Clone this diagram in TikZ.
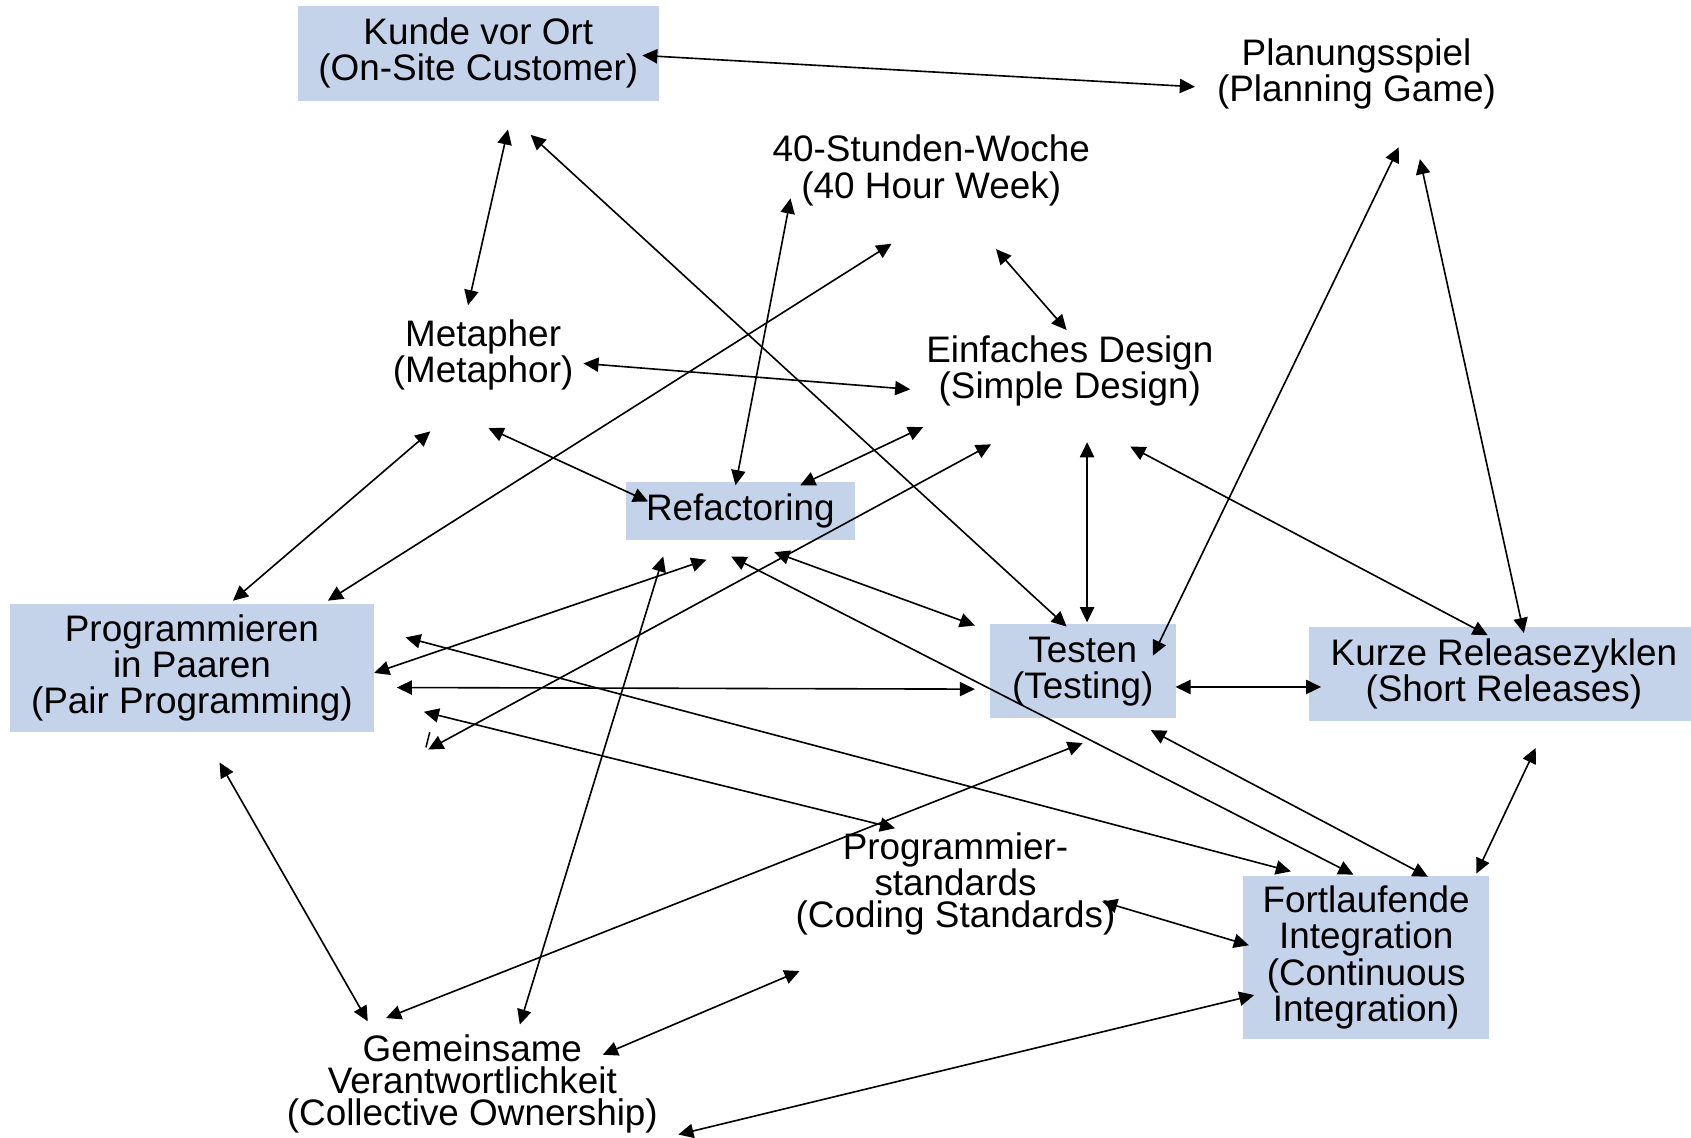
\documentclass[tikz,border=0pt]{standalone}
\usepackage{fontspec}
\setmainfont{Liberation Sans}
\usetikzlibrary{arrows.meta}
\definecolor{boxblue}{RGB}{197,211,234}

\begin{document}
\begin{tikzpicture}[x=0.5pt,y=-0.5pt,
  every node/.style={font=\fontsize{17.1}{16.75}\selectfont, align=center, inner sep=0pt},
  practice/.style={fill=boxblue},
  tight/.style={font=\fontsize{17.1}{14.8}\selectfont},
  link/.style={line width=0.75pt,
    {Triangle[length=7pt,width=6.6pt]}-{Triangle[length=7pt,width=6.6pt]}},
]
\useasboundingbox (0,0) rectangle (1568,1055);

% --- practices ---------------------------------------------------------
\node[practice, minimum width=167.5pt, minimum height=43.9pt] (kunde) at (443.5,49.5)
  {Kunde vor Ort\\(On-Site Customer)};
\node (plan) at (1257.8,68.5) {Planungsspiel\\(Planning Game)};
\node (week) at (863.5,158) {40-Stunden-Woche\\(40 Hour Week)};
\node (meta) at (448,329.4) {Metapher\\(Metaphor)};
\node (design) at (992,343.9) {Einfaches Design\\(Simple Design)};
\node[practice, minimum width=106.5pt, minimum height=27pt] (refac) at (686.5,474)
  {Refactoring};
\node[practice, minimum width=169pt, minimum height=59.6pt] (pair) at (178,619.2)
  {Programmieren\\in Paaren\\(Pair Programming)};
\node[practice, minimum width=86pt, minimum height=43.5pt] (test) at (1004,622.5)
  {Testen\\(Testing)};
\node[practice, minimum width=180.5pt, minimum height=43.75pt] (release) at (1394.5,624.75)
  {Kurze Releasezyklen\\(Short Releases)};
\node[practice, minimum width=114.2pt, minimum height=75.75pt] (ci) at (1266.8,887.75)
  {Fortlaufende\\Integration\\(Continuous\\Integration)};
\node[tight] (coding) at (886,819.5) {Programmier-\\standards\\(Coding Standards)};
\node[tight] (owner) at (438,1005) {Gemeinsame\\Verantwortlichkeit\\(Collective Ownership)};

% --- connector ends, named <at>-<towards> ------------------------------
\coordinate (kunde-plan) at (595.5,51.4);   \coordinate (plan-kunde) at (1108,80.5);
\coordinate (kunde-meta) at (471,120);      \coordinate (meta-kunde) at (434,283);
\coordinate (kunde-test) at (492,125);      \coordinate (test-kunde) at (989,581);
\coordinate (week-refac) at (733,184);      \coordinate (refac-week) at (682,450);
\coordinate (week-pair) at (826.7,226);     \coordinate (pair-week) at (304,557);
\coordinate (week-design) at (923.6,231);   \coordinate (design-week) at (989,306);
\coordinate (meta-design) at (541,337);     \coordinate (design-meta) at (844,361);
\coordinate (meta-pair) at (399,400);       \coordinate (pair-meta) at (216,557);
\coordinate (meta-refac) at (453,397);      \coordinate (refac-meta) at (601,465);
\coordinate (design-refac) at (856,396);    \coordinate (refac-design) at (742,450);
\coordinate (design-pair) at (919,412);     \coordinate (pair-design) at (397,695);
\coordinate (design-test) at (1008,410);    \coordinate (test-design) at (1008,577);
\coordinate (design-release) at (1048,414); \coordinate (release-design) at (1379.5,589);
\coordinate (plan-test) at (1297,136.5);    \coordinate (test-plan) at (1069,608);
\coordinate (plan-release) at (1316.6,147.5); \coordinate (release-plan) at (1413,587);
\coordinate (refac-test) at (718,512);      \coordinate (test-refac) at (904,580);
\coordinate (refac-pair) at (655,519);      \coordinate (pair-refac) at (347,624);
\coordinate (refac-ci) at (678,516);        \coordinate (ci-refac) at (1255,811);
\coordinate (refac-owner) at (615,516);     \coordinate (owner-refac) at (482,950);
\coordinate (pair-test) at (368,637.5);     \coordinate (test-pair) at (904,639);
\coordinate (pair-ci) at (376,591);         \coordinate (ci-pair) at (1197,808);
\coordinate (pair-coding) at (393,660);     \coordinate (coding-pair) at (830,768);
\coordinate (pair-owner) at (203.6,707);    \coordinate (owner-pair) at (341,947);
\coordinate (test-owner) at (1004,689);     \coordinate (owner-test) at (358,944);
\coordinate (test-release) at (1090,637);   \coordinate (release-test) at (1225,637);
\coordinate (test-ci) at (1067,677);        \coordinate (ci-test) at (1324,813);
\coordinate (release-ci) at (1424,693.6);   \coordinate (ci-release) at (1369,810);
\coordinate (coding-ci) at (1022,836);      \coordinate (ci-coding) at (1158,876.5);
\coordinate (coding-owner) at (741.4,900.4); \coordinate (owner-coding) at (559,978);
\coordinate (owner-ci) at (629,1052);       \coordinate (ci-owner) at (1163,922.7);

% --- connectors --------------------------------------------------------
\foreach \a/\b in {kunde/plan, kunde/meta, kunde/test, week/refac, week/pair,
    week/design, meta/design, meta/pair, meta/refac, design/refac, design/pair,
    design/test, design/release, plan/test, plan/release, refac/test, refac/pair,
    refac/ci, refac/owner, pair/test, pair/ci, pair/coding, pair/owner,
    test/owner, test/release, test/ci, release/ci, coding/ci, coding/owner,
    owner/ci}
  \draw[link] (\a-\b) -- (\b-\a);

% small stroke left at the end of the design link
\draw[line width=0.7pt] (395,693) -- (398.5,679);
\end{tikzpicture}
\end{document}
